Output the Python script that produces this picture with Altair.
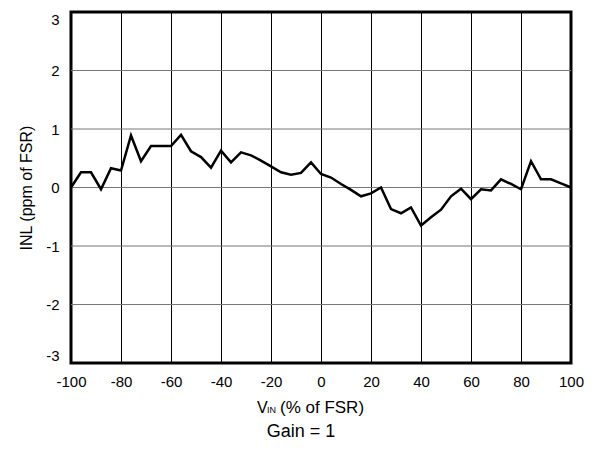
import altair as alt
import pandas as pd

vin = list(range(-100, 101, 4))
inl = [0.00, 0.26, 0.26, -0.03, 0.33, 0.29, 0.89, 0.45, 0.71, 0.71,
       0.71, 0.90, 0.62, 0.52, 0.34, 0.63, 0.43, 0.60, 0.55, 0.46,
       0.36, 0.26, 0.22, 0.25, 0.43, 0.23, 0.17, 0.06, -0.04, -0.15,
       -0.10, 0.00, -0.37, -0.44, -0.34, -0.65, -0.51, -0.38, -0.15, -0.02,
       -0.20, -0.03, -0.05, 0.14, 0.06, -0.03, 0.45, 0.14, 0.14, 0.07,
       0.00]
x_ticks = list(range(-100, 101, 20))
y_ticks = [-3, -2, -1, 0, 1, 2, 3]
y_grid = [-2, -1, 0, 1, 2]

FONT = "Liberation Sans"
W, H = 500, 351

df = pd.DataFrame({"vin": vin, "inl": inl})
grid_df = pd.DataFrame({"g": y_grid})

xscale = alt.Scale(domain=[-100, 100], nice=False, zero=False)
yscale = alt.Scale(domain=[-3, 3], nice=False, zero=False)

yaxis = alt.Axis(values=y_ticks, title="INL (ppm of FSR)", grid=False,
                 ticks=False, domain=False, labelFontSize=15,
                 labelPadding=12, labelFlush=True, labelColor="black",
                 labelFont=FONT, titleFont=FONT, titleFontSize=16,
                 titleFontWeight="normal", titleColor="black",
                 titlePadding=11, labelExpr="toString(datum.value)")
xaxis = alt.Axis(values=x_ticks, title=None, grid=True, gridColor="black",
                 gridWidth=1, gridOpacity=1, ticks=False, domain=False,
                 labelFontSize=15, labelPadding=11, labelFlush=False,
                 labelColor="black", labelFont=FONT,
                 labelExpr="toString(datum.value)")

hgrid = alt.Chart(grid_df).mark_rule(color="#777777", strokeWidth=1).encode(
    y=alt.Y("g:Q", scale=yscale, axis=yaxis)
)

line = alt.Chart(df).mark_line(color="black", strokeWidth=2.5).encode(
    x=alt.X("vin:Q", scale=xscale, axis=xaxis),
    y=alt.Y("inl:Q", scale=yscale, axis=yaxis),
)

def label(text, x, y, size, align="left"):
    return alt.Chart(pd.DataFrame({"t": [text]})).mark_text(
        font=FONT, fontSize=size, color="black", align=align, baseline="alphabetic"
    ).encode(text="t:N", x=alt.value(x), y=alt.value(y))

t_v = label("V", 186, 401, 16)
t_in = label("IN", 196, 401, 9)
t_rest = label("(% of FSR)", 209, 401, 17)
t_gain = label("Gain = 1", 230, 425, 18, align="center")

chart = alt.layer(hgrid, line, t_v, t_in, t_rest, t_gain).properties(
    width=W, height=H,
    autosize=alt.AutoSizeParams(type="none"),
    padding={"left": 63, "top": 4, "right": 16, "bottom": 80},
).configure(background="white").configure_view(
    stroke="black", strokeWidth=3
)

chart.save("out.html", embed_options={"renderer": "svg", "actions": False})
